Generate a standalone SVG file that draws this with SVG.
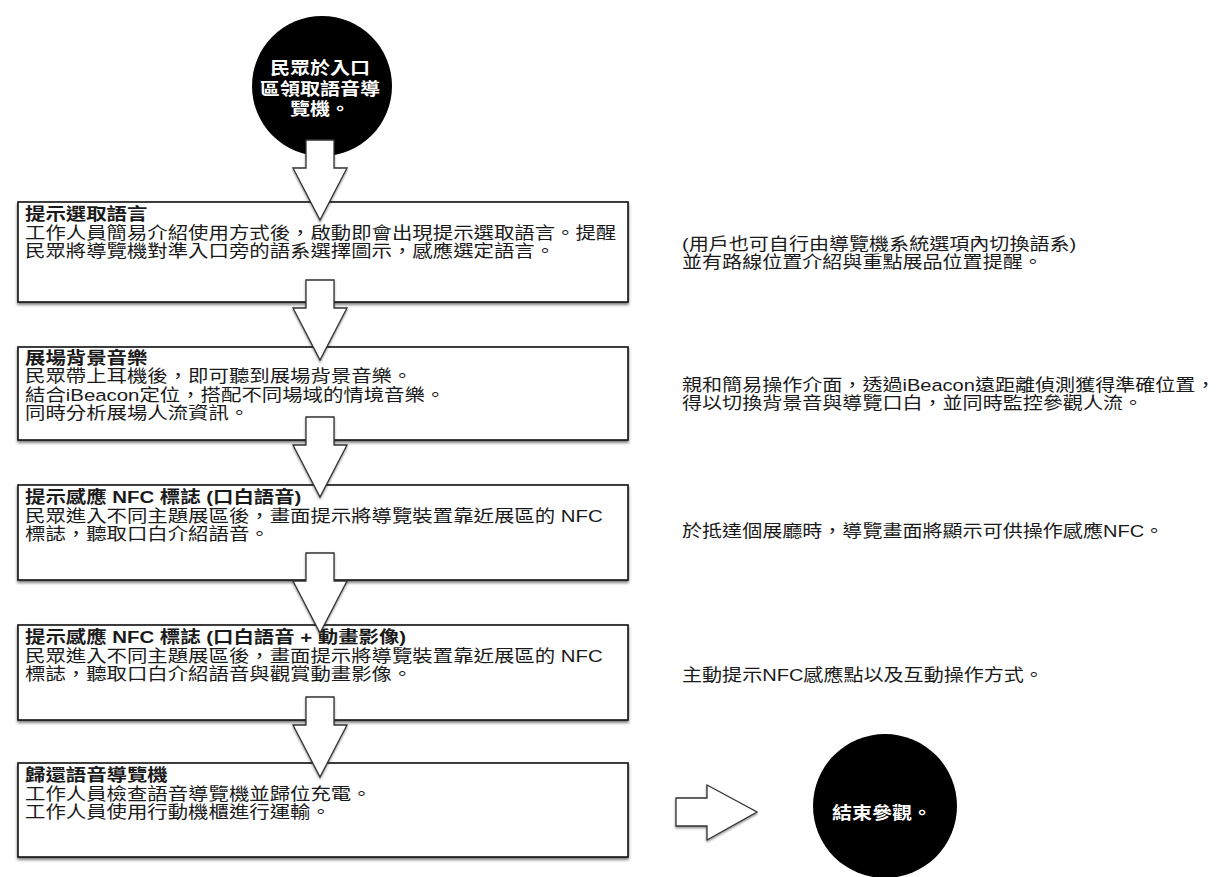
<svg xmlns="http://www.w3.org/2000/svg" width="1221" height="877" viewBox="0 0 1221 877">
<defs>
<filter id="sh" x="-5%" y="-20%" width="110%" height="140%">
<feDropShadow dx="0" dy="2" stdDeviation="1.5" flood-color="#000" flood-opacity="0.55"/>
</filter>
<filter id="ash" x="-30%" y="-20%" width="160%" height="140%">
<feDropShadow dx="0" dy="1.5" stdDeviation="1.2" flood-color="#000" flood-opacity="0.45"/>
</filter>
<path id="varrow" d="M-14,0 H14 V28 H27 L0,80 L-27,28 H-14 Z"/>
</defs>
<style>
.box{fill:#fff;stroke:#111;stroke-width:1.6;filter:url(#sh)}
.t{font-family:"Liberation Sans","Noto Sans CJK TC","Noto Sans CJK SC",sans-serif;font-size:17px;fill:#1a1a1a}
.tt{font-weight:700}
.wt{font-family:"Liberation Sans","Noto Sans CJK TC","Noto Sans CJK SC",sans-serif;font-size:17px;font-weight:700;fill:#fff;text-anchor:middle}
.arr{fill:#fff;stroke:#333;stroke-width:1.3;stroke-linejoin:miter;filter:url(#ash)}
</style>
<rect width="1221" height="877" fill="#fff"/>

<g id="start">
<circle cx="322" cy="86" r="70" fill="#000"/>
<g transform="translate(320 0) scale(1.18 1)">
<text class="wt" x="0" y="74">民眾於入口</text>
<text class="wt" x="0" y="95">區領取語音導</text>
<text class="wt" x="0" y="115">覽機。</text>
</g>
</g>

<g id="step1">
<rect class="box" x="18" y="202" width="610" height="100"/>
<g transform="translate(25 0) scale(1.2 1)">
<text class="t tt" x="0" y="220.5">提示選取語言</text>
<text class="t" x="0" y="239">工作人員簡易介紹使用方式後，啟動即會出現提示選取語言。提醒</text>
<text class="t" x="0" y="257.5">民眾將導覽機對準入口旁的語系選擇圖示，感應選定語言。</text>
</g>
</g>

<g id="step2">
<rect class="box" x="18" y="347" width="610" height="93"/>
<g transform="translate(25 0) scale(1.2 1)">
<text class="t tt" x="0" y="364">展場背景音樂</text>
<text class="t" x="0" y="382.5">民眾帶上耳機後，即可聽到展場背景音樂。</text>
<text class="t" x="0" y="401">結合iBeacon定位，搭配不同場域的情境音樂。</text>
<text class="t" x="0" y="419.5">同時分析展場人流資訊。</text>
</g>
</g>

<g id="step3">
<rect class="box" x="18" y="485" width="610" height="95"/>
<g transform="translate(25 0) scale(1.2 1)">
<text class="t tt" x="0" y="503.5">提示感應 NFC 標誌 (口白語音)</text>
<text class="t" x="0" y="522">民眾進入不同主題展區後，畫面提示將導覽裝置靠近展區的 NFC</text>
<text class="t" x="0" y="540.5">標誌，聽取口白介紹語音。</text>
</g>
</g>

<g id="step4">
<rect class="box" x="18" y="625" width="610" height="95"/>
<g transform="translate(25 0) scale(1.2 1)">
<text class="t tt" x="0" y="643.5">提示感應 NFC 標誌 (口白語音 + 動畫影像)</text>
<text class="t" x="0" y="662">民眾進入不同主題展區後，畫面提示將導覽裝置靠近展區的 NFC</text>
<text class="t" x="0" y="680.5">標誌，聽取口白介紹語音與觀賞動畫影像。</text>
</g>
</g>

<g id="step5">
<rect class="box" x="18" y="763" width="610" height="94"/>
<g transform="translate(25 0) scale(1.2 1)">
<text class="t tt" x="0" y="781.5">歸還語音導覽機</text>
<text class="t" x="0" y="800">工作人員檢查語音導覽機並歸位充電。</text>
<text class="t" x="0" y="818.5">工作人員使用行動機櫃進行運輸。</text>
</g>
</g>

<g id="note1">
<g transform="translate(682 0) scale(1.18 1)">
<text class="t" x="0" y="250">(用戶也可自行由導覽機系統選項內切換語系)</text>
<text class="t" x="0" y="268.5">並有路線位置介紹與重點展品位置提醒。</text>
</g>
</g>
<g id="note2">
<g transform="translate(682 0) scale(1.18 1)">
<text class="t" x="0" y="391">親和簡易操作介面，透過iBeacon遠距離偵測獲得準確位置，</text>
<text class="t" x="0" y="409.5">得以切換背景音與導覽口白，並同時監控參觀人流。</text>
</g>
</g>
<g id="note3">
<g transform="translate(682 0) scale(1.18 1)">
<text class="t" x="0" y="537">於抵達個展廳時，導覽畫面將顯示可供操作感應NFC。</text>
</g>
</g>
<g id="note4">
<g transform="translate(682 0) scale(1.18 1)">
<text class="t" x="0" y="681">主動提示NFC感應點以及互動操作方式。</text>
</g>
</g>

<g id="end">
<circle cx="885" cy="806" r="72" fill="#000"/>
<g transform="translate(882 0) scale(1.18 1)">
<text class="wt" x="0" y="819">結束參觀。</text>
</g>
</g>

<g id="connectors">
<use href="#varrow" class="arr" x="320" y="140"/>
<use href="#varrow" class="arr" x="320" y="280"/>
<use href="#varrow" class="arr" x="320" y="417"/>
<use href="#varrow" class="arr" x="320" y="553"/>
<use href="#varrow" class="arr" x="320" y="697"/>
<path class="arr" d="M676,798 H707 V785 L757,812 L707,840 V826 H676 Z"/>
</g>
</svg>
